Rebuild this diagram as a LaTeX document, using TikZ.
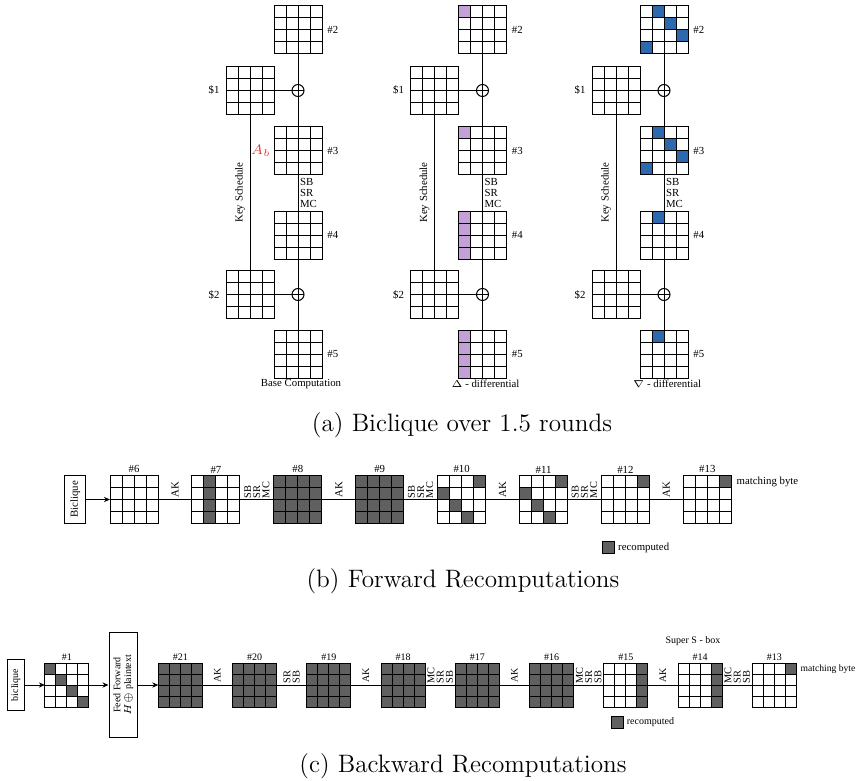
\documentclass[tikz,border=0pt]{standalone}
\usepackage{fontspec}
\newfontfamily\tms{Liberation Serif}
\usetikzlibrary{arrows.meta,positioning,calc}
\definecolor{stgray}{HTML}{606060}
\definecolor{lilac}{HTML}{C3A0D7}
\definecolor{nbblue}{HTML}{2D69AF}
\definecolor{abred}{HTML}{DC3C3C}
\newcommand{\lblfont}{\tms\fontsize{5.4}{5.6}\selectfont}
\newcommand{\lblfonts}{\tms\fontsize{5}{5.4}\selectfont}
\newcommand{\stkfont}{\tms\fontsize{5.2}{4.6}\selectfont}
\tikzset{
  hot/.store in=\hotcells, hot={},
  hotcolor/.store in=\hotcolor, hotcolor=stgray,
  cellsz/.store in=\cellsz, cellsz=12,
  st/.style={draw, line width=0.5pt, fill=white, inner sep=0pt, outer sep=0pt, minimum size=24pt, cellsz=12,
    path picture={
      \foreach \cx/\ry in \hotcells
        \fill[fill=\hotcolor] ($(path picture bounding box.north west)+(\cx*\cellsz,\ry*\cellsz)$) rectangle +(\cellsz,\cellsz);
      \foreach \i in {1,2,3} {
        \draw[line width=0.5pt] ($(path picture bounding box.north west)+(\i*\cellsz,0)$) -- +(0,4*\cellsz);
        \draw[line width=0.5pt] ($(path picture bounding box.north west)+(0,\i*\cellsz)$) -- +(4*\cellsz,0);
      }}},
  sts/.style={st, minimum size=22pt, cellsz=11},
  xo/.style={draw, circle, line width=0.5pt, inner sep=0pt, outer sep=0pt, minimum size=6pt,
    path picture={\draw[line width=0.5pt] (path picture bounding box.north) -- (path picture bounding box.south)
      (path picture bounding box.west) -- (path picture bounding box.east);}},
  lbl/.style={font=\lblfont, inner sep=0.5pt},
  ops/.style={font=\tms\fontsize{5.4}{5.5}\selectfont, align=left, inner sep=0.8pt},
  opr/.style={font=\stkfont, align=left, rotate=90, anchor=west, inner sep=0.5pt},
  akl/.style={lbl, rotate=90, anchor=west, inner sep=1pt},
  box/.style={draw, line width=0.5pt, rotate=90, font=\lblfont, align=center, inner sep=0.5pt},
  lgd/.style={draw, line width=0.5pt, fill=stgray, minimum size=6pt, inner sep=0pt},
  ln/.style={line width=0.4pt},
  arr/.style={-{Stealth[length=3pt, width=2.6pt]}, line width=0.4pt},
  captxt/.style={font=\fontsize{12.6}{14}\selectfont, inner sep=0pt}
}
% one column of the biclique: prefix, x, cells of #2..#5, colour, caption
\newcommand{\bicol}[8]{%
  \node[st, hot={#3}, hotcolor=#7] (#1s2) at (#2,30) {};
  \node[st, hot={#4}, hotcolor=#7, below=36.5pt of #1s2] (#1s3) {};
  \node[st, hot={#5}, hotcolor=#7, below=18pt of #1s3] (#1s4) {};
  \node[st, hot={#6}, hotcolor=#7, below=35.5pt of #1s4] (#1s5) {};
  \node[xo] (#1x1) at ($(#1s2.south)!0.5!(#1s3.north)$) {};
  \node[xo] (#1x2) at ($(#1s4.south)!0.5!(#1s5.north)$) {};
  \node[st, left=8.85pt of #1x1] (#1k1) {};
  \node[st, left=8.85pt of #1x2] (#1k2) {};
  \node[lbl, right=2pt of #1s2] (#1l2) {\#2};
  \node[lbl, right=2pt of #1s3] (#1l3) {\#3};
  \node[lbl, right=2pt of #1s4] (#1l4) {\#4};
  \node[lbl, right=2pt of #1s5] (#1l5) {\#5};
  \node[lbl, left=2.7pt of #1k1] (#1lk1) {\$1};
  \node[lbl, left=2.7pt of #1k2] (#1lk2) {\$2};
  \node[lbl, below=0pt of #1s5, xshift=1.5pt] (#1cap) {#8};
  \draw[ln] (#1s2) -- (#1x1) -- (#1s3) -- node[ops, right] (#1op) {SB\\SR\\MC} (#1s4) -- (#1x2) -- (#1s5);
  \draw[ln] (#1k1) -- (#1x1);
  \draw[ln] (#1k2) -- (#1x2);
  \draw[ln] (#1k1) -- node[lbl, rotate=90, anchor=south, inner sep=2.5pt] (#1ks) {Key Schedule} (#1k2);
}

\begin{document}
\begin{tikzpicture}[x=0.5pt, y=-0.5pt]
\useasboundingbox (0,0) rectangle (857,781);

% (a) biclique
\bicol{b}{298}{}{}{}{}{stgray}{Base Computation}
\bicol{d}{482.5}{0/0}{0/0}{0/0,0/1,0/2,0/3}{0/0,0/1,0/2,0/3}{lilac}{$\Delta$ - differential}
\bicol{n}{664}{1/0,2/1,3/2,0/3}{1/0,2/1,3/2,0/3}{1/0}{1/0}{nbblue}{$\nabla$ - differential}
\node[text=abred, inner sep=0.5pt, font=\fontsize{7}{8}\selectfont, left=1pt of bs3] (ab) {$A_b$};
\node[captxt] (capa) at (462,425) {(a) Biclique over 1.5 rounds};

% (b) forward
\node[box, minimum width=23.8pt, minimum height=10.5pt] (fbq) at (75.2,499.5) {Biclique};
\begin{scope}[node distance=16.95pt]
\node[st] (f6) at (134,499.5) {};
\node[st, hot={1/0,1/1,1/2,1/3}, right=of f6] (f7) {};
\node[st, fill=stgray, right=of f7] (f8) {};
\node[st, fill=stgray, right=of f8] (f9) {};
\node[st, hot={3/0,0/1,1/2,2/3}, right=of f9] (f10) {};
\node[st, hot={3/0,0/1,1/2,2/3}, right=of f10] (f11) {};
\node[st, hot={3/0}, right=of f11] (f12) {};
\node[st, hot={3/0}, right=of f12] (f13) {};
\end{scope}
\foreach \i in {6,...,13} \node[lbl, above=0.5pt of f\i] (lf\i) {\#\i};
\draw[arr] (fbq) -- (f6);
\draw[ln] (f6) -- node[akl] (fo1) {AK} (f7) -- node[opr] (fo2) {SB\\SR\\MC} (f8)
  -- node[akl] (fo3) {AK} (f9) -- node[opr] (fo4) {SB\\SR\\MC} (f10)
  -- node[akl] (fo5) {AK} (f11) -- node[opr] (fo6) {SB\\SR\\MC} (f12)
  -- node[akl] (fo7) {AK} (f13);
\node[lbl, anchor=north west] (fmb) at ([xshift=2pt]f13.north east) {matching byte};
\node[lgd] (flg) at (608.3,547.6) {};
\node[lbl, right=1pt of flg] (flgt) {recomputed};
\node[captxt] (capb) at (463,581) {(b) Forward Recomputations};

% (c) backward
\begin{scope}[lbl/.append style={font=\lblfonts}, box/.append style={font=\lblfonts}]
\node[box, minimum width=25.2pt, minimum height=8.35pt] (rbq) at (15.65,685) {biclique};
\node[sts, hot={0/0,1/1,2/2,3/3}] (r1) at (66.85,685) {};
\node[box, minimum width=52.5pt, minimum height=14.35pt] (rff) at (123.35,685) {Feed Forward\\$H\oplus$ plaintext};
\begin{scope}[node distance=15.125pt]
\node[sts, fill=stgray] (r21) at (180.3,685) {};
\node[sts, fill=stgray, right=of r21] (r20) {};
\node[sts, fill=stgray, right=of r20] (r19) {};
\node[sts, fill=stgray, right=of r19] (r18) {};
\node[sts, fill=stgray, right=of r18] (r17) {};
\node[sts, fill=stgray, right=of r17] (r16) {};
\node[sts, hot={3/0,3/1,3/2,3/3}, right=of r16] (r15) {};
\node[sts, hot={3/0,3/1,3/2,3/3}, right=of r15] (r14) {};
\node[sts, hot={3/0}, right=of r14] (r13) {};
\end{scope}
\node[lbl, above=0.5pt of r1] (lr1) {\#1};
\foreach \i in {21,20,...,13} \node[lbl, above=0.5pt of r\i] (lr\i) {\#\i};
\draw[arr] (rbq) -- (r1);
\draw[arr] (r1) -- (rff);
\draw[arr] (rff) -- (r21);
\draw[ln] (r21) -- node[akl] (ro1) {AK} (r20) -- node[opr] (ro2) {SR\\SB} (r19)
  -- node[akl] (ro3) {AK} (r18) -- node[opr] (ro4) {MC\\SR\\SB} (r17)
  -- node[akl] (ro5) {AK} (r16) -- node[opr] (ro6) {MC\\SR\\SB} (r15)
  -- node[akl] (ro7) {AK} (r14) -- node[opr] (ro8) {MC\\SR\\SB} (r13);
\node[lbl, anchor=north west, font=\tms\fontsize{4.8}{5}\selectfont] (rmb) at ([xshift=1.5pt]r13.north east) {matching byte};
\node[lbl] (ssb) at (693,641.3) {Super S - box};
\node[lgd] (rlg) at (617,722) {};
\node[lbl, right=1pt of rlg] (rlgt) {recomputed};
\end{scope}
\node[captxt] (capc) at (463,766) {(c) Backward Recomputations};
\end{tikzpicture}
\end{document}
